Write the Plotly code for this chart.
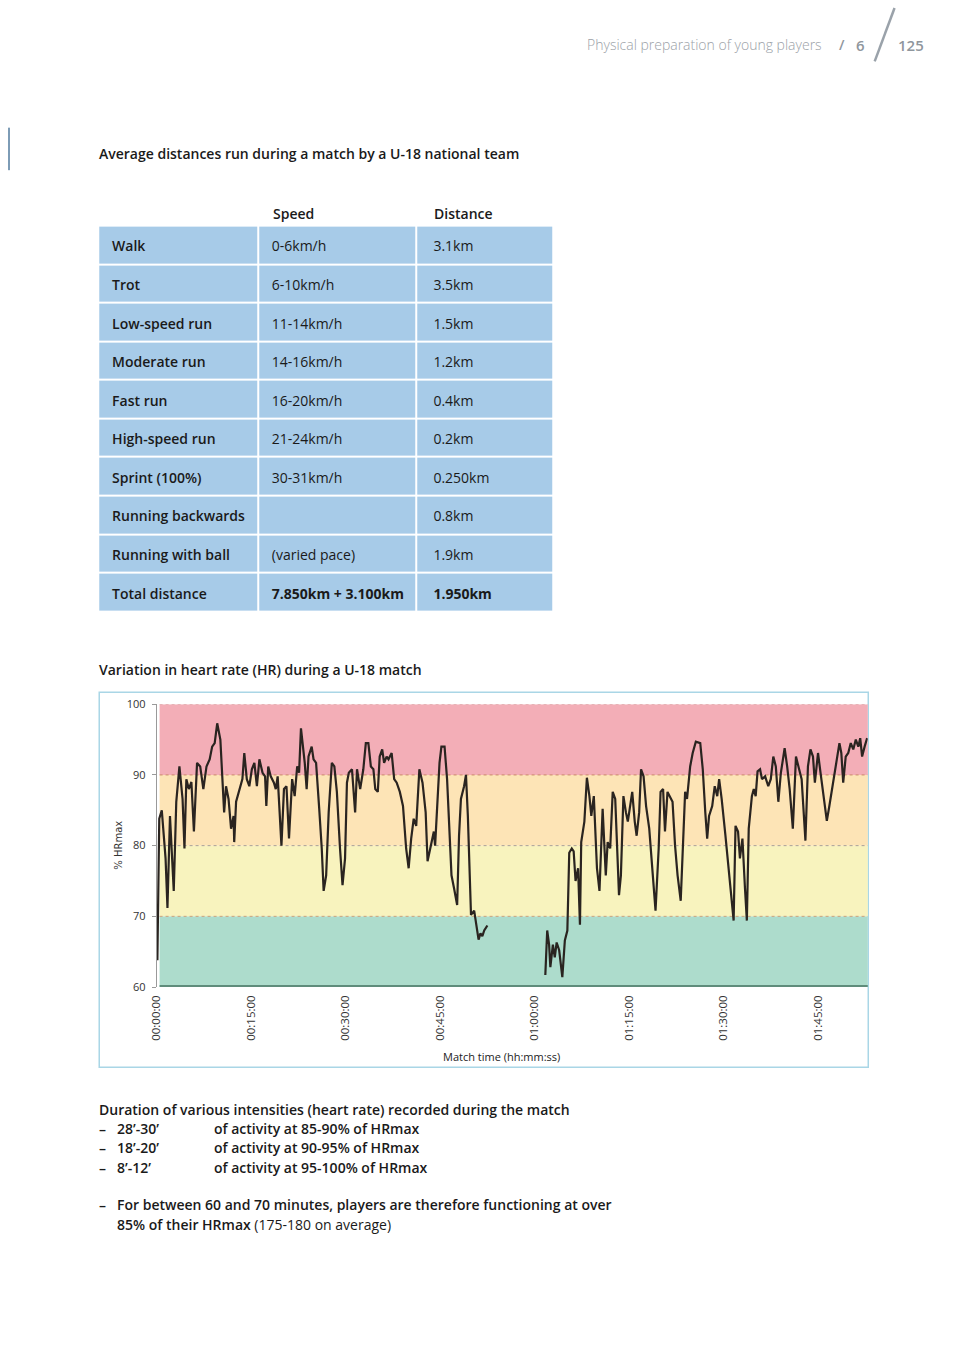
import plotly.graph_objects as go

W, H = 959, 1356

def px(x):
    return x / W

def py(y):
    return 1 - y / H

# ---------------- Table data ----------------
activities = ["Walk", "Trot", "Low-speed run", "Moderate run", "Fast run",
              "High-speed run", "Sprint (100%)", "Running backwards",
              "Running with ball", "Total distance"]
speeds = ["0-6km/h", "6-10km/h", "11-14km/h", "14-16km/h", "16-20km/h",
          "21-24km/h", "30-31km/h", "", "(varied pace)", "<b>7.850km + 3.100km</b>"]
distances = ["3.1km", "3.5km", "1.5km", "1.2km", "0.4km", "0.2km", "0.250km",
             "0.8km", "1.9km", "<b>1.950km</b>"]
headers = ["Speed", "Distance"]

# ---------------- Heart-rate data (minutes, % HRmax) ----------------
t_first = [0.1, 0.4, 0.8, 1.4, 1.7, 2.1, 2.7, 3.1, 3.6, 4.1, 4.4, 4.7, 5.1, 5.5, 5.9,
           6.4, 6.9, 7.4, 7.9, 8.4, 8.8, 9.2, 9.6, 10.1, 10.7, 11.0, 11.4, 11.8, 12.2,
           12.3, 12.6, 13.2, 13.6, 13.9, 14.3, 14.7, 15.1, 15.5, 15.9, 16.3, 16.8,
           17.2, 17.4, 17.7, 18.1, 18.6, 18.9, 19.2, 19.5, 19.8, 20.2, 20.6, 21.0,
           21.5, 21.9, 22.3, 22.6, 22.9, 23.5, 23.8, 24.1, 24.6, 24.9, 25.3, 25.8,
           26.2, 26.5, 26.9, 27.3, 27.8, 28.2, 28.6, 29.1, 29.5, 29.9, 30.2, 30.5,
           31.0, 31.5, 31.8, 32.3, 32.8, 33.2, 33.6, 34.0, 34.4, 34.7, 35.1, 35.4,
           35.8, 36.1, 36.5, 36.8, 37.3, 37.7, 38.1, 38.6, 39.1, 39.6, 40.0, 40.4,
           40.8, 41.2, 41.7, 42.2, 42.7, 43.0, 43.6, 44.0, 44.2, 44.9, 45.2, 45.7,
           46.1, 46.4, 46.8, 47.2, 47.7, 48.0, 48.3, 48.8, 49.1, 49.4, 49.9, 50.4,
           50.6, 50.9, 51.1, 51.4, 51.7, 52.0, 52.5]
hr_first = [63.8, 83.8, 85.0, 78.2, 71.2, 84.2, 73.6, 86.2, 91.2, 86.6, 79.6, 89.4, 88.0,
            89.0, 82.0, 91.7, 91.2, 88.0, 91.2, 92.2, 94.0, 94.5, 97.3, 95.0, 84.7, 88.4,
            86.6, 82.4, 84.2, 80.5, 86.2, 88.0, 89.4, 93.1, 89.4, 88.4, 90.8, 91.7, 88.4,
            92.2, 90.3, 89.8, 85.6, 91.2, 89.8, 88.9, 88.0, 89.8, 85.6, 80.0, 88.0, 88.4,
            81.0, 89.4, 87.0, 91.2, 90.3, 96.6, 91.7, 88.0, 92.6, 94.0, 92.2, 91.7, 85.2,
            79.6, 73.6, 75.8, 84.7, 91.7, 91.2, 87.6, 79.6, 74.4, 78.2, 88.9, 90.3, 90.8,
            84.7, 90.8, 88.0, 90.8, 94.5, 94.5, 91.2, 90.8, 88.0, 87.6, 92.6, 93.6, 91.7,
            92.6, 92.2, 93.1, 89.4, 88.9, 87.6, 85.6, 79.6, 76.8, 81.0, 83.8, 82.8, 90.8,
            88.9, 84.7, 77.8, 80.5, 82.0, 80.0, 91.7, 94.0, 94.0, 89.4, 83.4, 75.8, 74.0,
            71.6, 81.4, 86.6, 88.4, 90.0, 84.2, 70.2, 70.8, 69.4, 68.0, 66.7, 67.6, 67.2,
            68.0, 68.7]

t_second = [61.7, 62.0, 62.3, 62.5, 62.9, 63.2, 63.5, 63.9, 64.4, 64.8, 65.2, 65.5,
            65.9, 66.2, 66.5, 66.9, 67.2, 67.4, 67.9, 68.3, 68.7, 69.0, 69.4, 69.9,
            70.3, 70.8, 71.3, 71.6, 72.0, 72.4, 72.8, 73.4, 73.7, 74.1, 74.5, 74.8,
            75.1, 75.5, 75.9, 76.2, 76.6, 76.9, 77.3, 77.7, 78.2, 78.7, 79.2, 79.7,
            80.0, 80.4, 80.7, 81.1, 81.4, 81.9, 82.3, 82.7, 83.2, 83.5, 83.9, 84.2,
            84.7, 85.1, 85.6, 86.3, 86.7, 87.1, 87.4, 87.7, 88.2, 88.6, 89.0, 89.3,
            89.7, 90.3, 90.8, 91.2, 91.6, 91.9, 92.3, 92.6, 93.0, 93.4, 93.7, 94.0,
            94.5, 94.8, 95.1, 95.4, 95.8, 96.1, 96.6, 97.1, 97.5, 97.9, 98.3, 98.7,
            99.1, 99.5, 99.7, 100.1, 100.5, 101.0, 101.5, 102.0, 102.4, 103.0, 103.4,
            103.8, 104.2, 104.5, 105.0, 105.4, 105.7, 106.1, 106.4, 106.8, 107.3,
            107.8, 108.4, 108.7, 109.0, 109.4, 109.8, 110.2, 110.6, 111.0, 111.4,
            111.7, 112.0, 112.4, 112.8]
hr_second = [61.7, 68.0, 66.0, 62.8, 66.0, 64.2, 66.3, 65.2, 61.4, 66.6, 68.0, 79.0,
             79.6, 79.2, 75.0, 76.8, 68.8, 80.5, 83.4, 89.6, 87.0, 84.2, 87.0, 76.8,
             73.6, 85.2, 75.8, 80.5, 79.6, 87.6, 86.6, 73.0, 75.8, 87.0, 84.7, 83.4,
             85.2, 87.6, 83.4, 81.4, 84.7, 90.8, 89.8, 85.6, 82.4, 77.2, 70.8, 79.6,
             87.6, 88.0, 82.0, 87.6, 87.0, 86.2, 80.0, 75.8, 72.2, 80.0, 87.6, 86.6,
             91.2, 93.1, 94.7, 94.5, 90.8, 84.7, 81.0, 84.2, 85.6, 88.4, 87.0, 89.4,
             86.6, 81.4, 76.8, 72.2, 69.4, 82.8, 82.0, 78.2, 81.0, 74.0, 69.4, 82.4,
             87.0, 88.0, 87.0, 90.5, 90.8, 89.4, 89.8, 88.4, 89.4, 92.6, 91.2, 86.2,
             90.3, 92.6, 93.8, 91.2, 88.0, 82.4, 92.6, 90.8, 89.4, 80.7, 91.2, 93.6,
             92.6, 88.9, 93.1, 90.3, 88.4, 85.6, 83.5, 85.6, 88.4, 91.2, 94.5, 93.1,
             88.9, 92.6, 93.1, 94.5, 93.6, 95.0, 94.0, 95.2, 92.6, 94.0, 95.2]

tick_minutes = [0, 15, 30, 45, 60, 75, 90, 105]
tick_labels = ["00:00:00", "00:15:00", "00:30:00", "00:45:00", "01:00:00",
               "01:15:00", "01:30:00", "01:45:00"]
y_ticks = [60, 70, 80, 90, 100]
zones = [(60, 70, "#addccc"), (70, 80, "#f8f3be"), (80, 90, "#fde4b6"), (90, 100, "#f3aeb7")]
zone_lines = [(70, "#c9a27a"), (80, "#a9a197"), (90, "#c98a6a"), (100, "#d59a9a")]

FONT = "Open Sans"
TXT = "#1a1a1a"

# table geometry (in table-axis pixel units)
COL_EDGES = [0, 161, 321, 459]
TEXT_X = [14, 175, 338]
TEXT_DY = 0.08

fig = go.Figure()

# ---- Table: cells as a heatmap with white gaps, text as text traces ----
n_rows = len(activities)
rows = list(range(n_rows))
fig.add_trace(go.Heatmap(
    z=[[1, 1, 1] for _ in rows], x=COL_EDGES, y=rows,
    colorscale=[[0, "#a7cbe8"], [1, "#a7cbe8"]], showscale=False,
    xgap=2, ygap=2, hoverinfo="skip", xaxis="x2", yaxis="y2",
))
for col_vals, xpos, wt in [(activities, TEXT_X[0], 600), (speeds, TEXT_X[1], 400),
                           (distances, TEXT_X[2], 400)]:
    fig.add_trace(go.Scatter(
        x=[xpos] * n_rows, y=[r + TEXT_DY for r in rows], text=col_vals, mode="text",
        textposition="middle right", cliponaxis=False, hoverinfo="skip",
        textfont=dict(family=FONT, size=14, color=TXT, weight=wt),
        xaxis="x2", yaxis="y2", showlegend=False,
    ))

# ---- HR line (gap at half time) ----
fig.add_trace(go.Scatter(
    x=t_first + [None] + t_second,
    y=hr_first + [None] + hr_second,
    mode="lines", line=dict(color="#2a2420", width=2.2),
    connectgaps=False, hoverinfo="skip", showlegend=False,
))

shapes = []
shapes.append(dict(type="rect", xref="paper", yref="paper",
                   x0=px(92), x1=px(867.5), y0=py(1071), y1=py(692),
                   line=dict(color="#a9d6e6", width=1.5), layer="below"))
for lo, hi, col in zones:
    shapes.append(dict(type="rect", xref="x domain", yref="y", x0=0.004, x1=1,
                       y0=lo, y1=hi, fillcolor=col, line=dict(width=0), layer="below"))
for v, col in zone_lines:
    shapes.append(dict(type="line", xref="x domain", yref="y", x0=0.004, x1=1,
                       y0=v, y1=v, line=dict(color=col, width=1, dash="dot"), layer="below"))
shapes.append(dict(type="line", xref="x domain", yref="y", x0=0.004, x1=1,
                   y0=60, y1=60, line=dict(color="#5f8c7b", width=4), layer="above"))
shapes.append(dict(type="line", xref="paper", yref="paper", x0=px(1), x1=px(1),
                   y0=py(121), y1=py(164), line=dict(color="#7d9cb6", width=2)))
shapes.append(dict(type="line", xref="paper", yref="paper", x0=px(894), x1=px(874),
                   y0=py(0), y1=py(54), line=dict(color="#9aa2aa", width=2.5)))

ann = []

def text(x, y, s, size=14, color=TXT, weight=400, xanchor="left"):
    ann.append(dict(x=px(x), y=py(y), xref="paper", yref="paper", text=s,
                    showarrow=False, xanchor=xanchor, yanchor="middle", borderpad=0,
                    font=dict(family=FONT, size=size, color=color, weight=weight)))

# table column headers
for h_txt, xpos in zip(headers, TEXT_X[1:]):
    ann.append(dict(x=xpos, y=py(208), xref="x2", yref="paper", text=h_txt,
                    showarrow=False, xanchor="left", yanchor="middle", borderpad=0,
                    font=dict(family=FONT, size=14, color=TXT, weight=600)))

text(822, 37, "Physical preparation of young players", size=14, color="#9ba1a7", weight=300, xanchor="right")
text(841, 37, "/", size=14, color="#8f969d", weight=600, xanchor="center")
text(860, 37, "6", size=15, color="#8f969d", weight=600, xanchor="center")
text(911, 37, "125", size=15, color="#8f969d", weight=600, xanchor="center")

text(91, 147, "Average distances run during a match by a U-18 national team", size=14, weight=600)
text(91, 669, "Variation in heart rate (HR) during a U-18 match", size=14, weight=600)

ann.append(dict(x=px(112), y=py(847), xref="paper", yref="paper", text="% HRmax",
                textangle=-90, showarrow=False, xanchor="center", yanchor="middle",
                font=dict(family="DejaVu Sans", size=10, color="#333333")))
ann.append(dict(x=px(498), y=py(1060), xref="paper", yref="paper", text="Match time (hh:mm:ss)",
                showarrow=False, xanchor="center", yanchor="middle",
                font=dict(family=FONT, size=11, color="#222222")))

text(91, 1114, "Duration of various intensities (heart rate) recorded during the match", weight=600)
notes = [("28’-30’", "of activity at 85-90% of HRmax"),
         ("18’-20’", "of activity at 90-95% of HRmax"),
         ("8’-12’", "of activity at 95-100% of HRmax")]
for i, (a, b) in enumerate(notes):
    yy = 1133 + i * 19.5
    text(91, yy, "–", weight=600)
    text(109, yy, a, weight=600)
    text(207, yy, b, weight=600)
text(91, 1210, "–", weight=600)
text(109, 1210, "For between 60 and 70 minutes, players are therefore functioning at over", weight=600)
text(109, 1230, "<span style='font-weight:600'>85% of their HRmax</span> (175-180 on average)", weight=400)

fig.update_layout(
    width=W, height=H, margin=dict(l=0, r=0, t=0, b=0),
    paper_bgcolor="white", plot_bgcolor="rgba(0,0,0,0)",
    showlegend=False, shapes=shapes, annotations=ann,
    xaxis=dict(domain=[px(150), px(867)], range=[0, 112.9], tickmode="array",
               tickvals=tick_minutes, ticktext=tick_labels, tickangle=-90,
               showgrid=False, zeroline=False, showline=False, ticks="",
               ticklabelstandoff=5,
               tickfont=dict(family=FONT, size=11.5, color="#333333")),
    yaxis=dict(domain=[py(990), py(704)], range=[60, 100], tickmode="array",
               tickvals=y_ticks, showgrid=False, zeroline=False,
               showline=True, linecolor="#9a9a9a", linewidth=1,
               ticks="outside", ticklen=4, tickcolor="#9a9a9a",
               ticklabelstandoff=4,
               tickfont=dict(family=FONT, size=11, color="#333333")),
    xaxis2=dict(domain=[px(91), px(550)], range=[0, 459], anchor="y2",
                visible=False, fixedrange=True),
    yaxis2=dict(domain=[py(610), py(220)], range=[n_rows - 0.5, -0.5], anchor="x2",
                visible=False, fixedrange=True),
)

fig.write_html("out.html", config={"displayModeBar": False},
               post_script="document.body.style.margin='0';document.body.style.overflow='hidden';")
